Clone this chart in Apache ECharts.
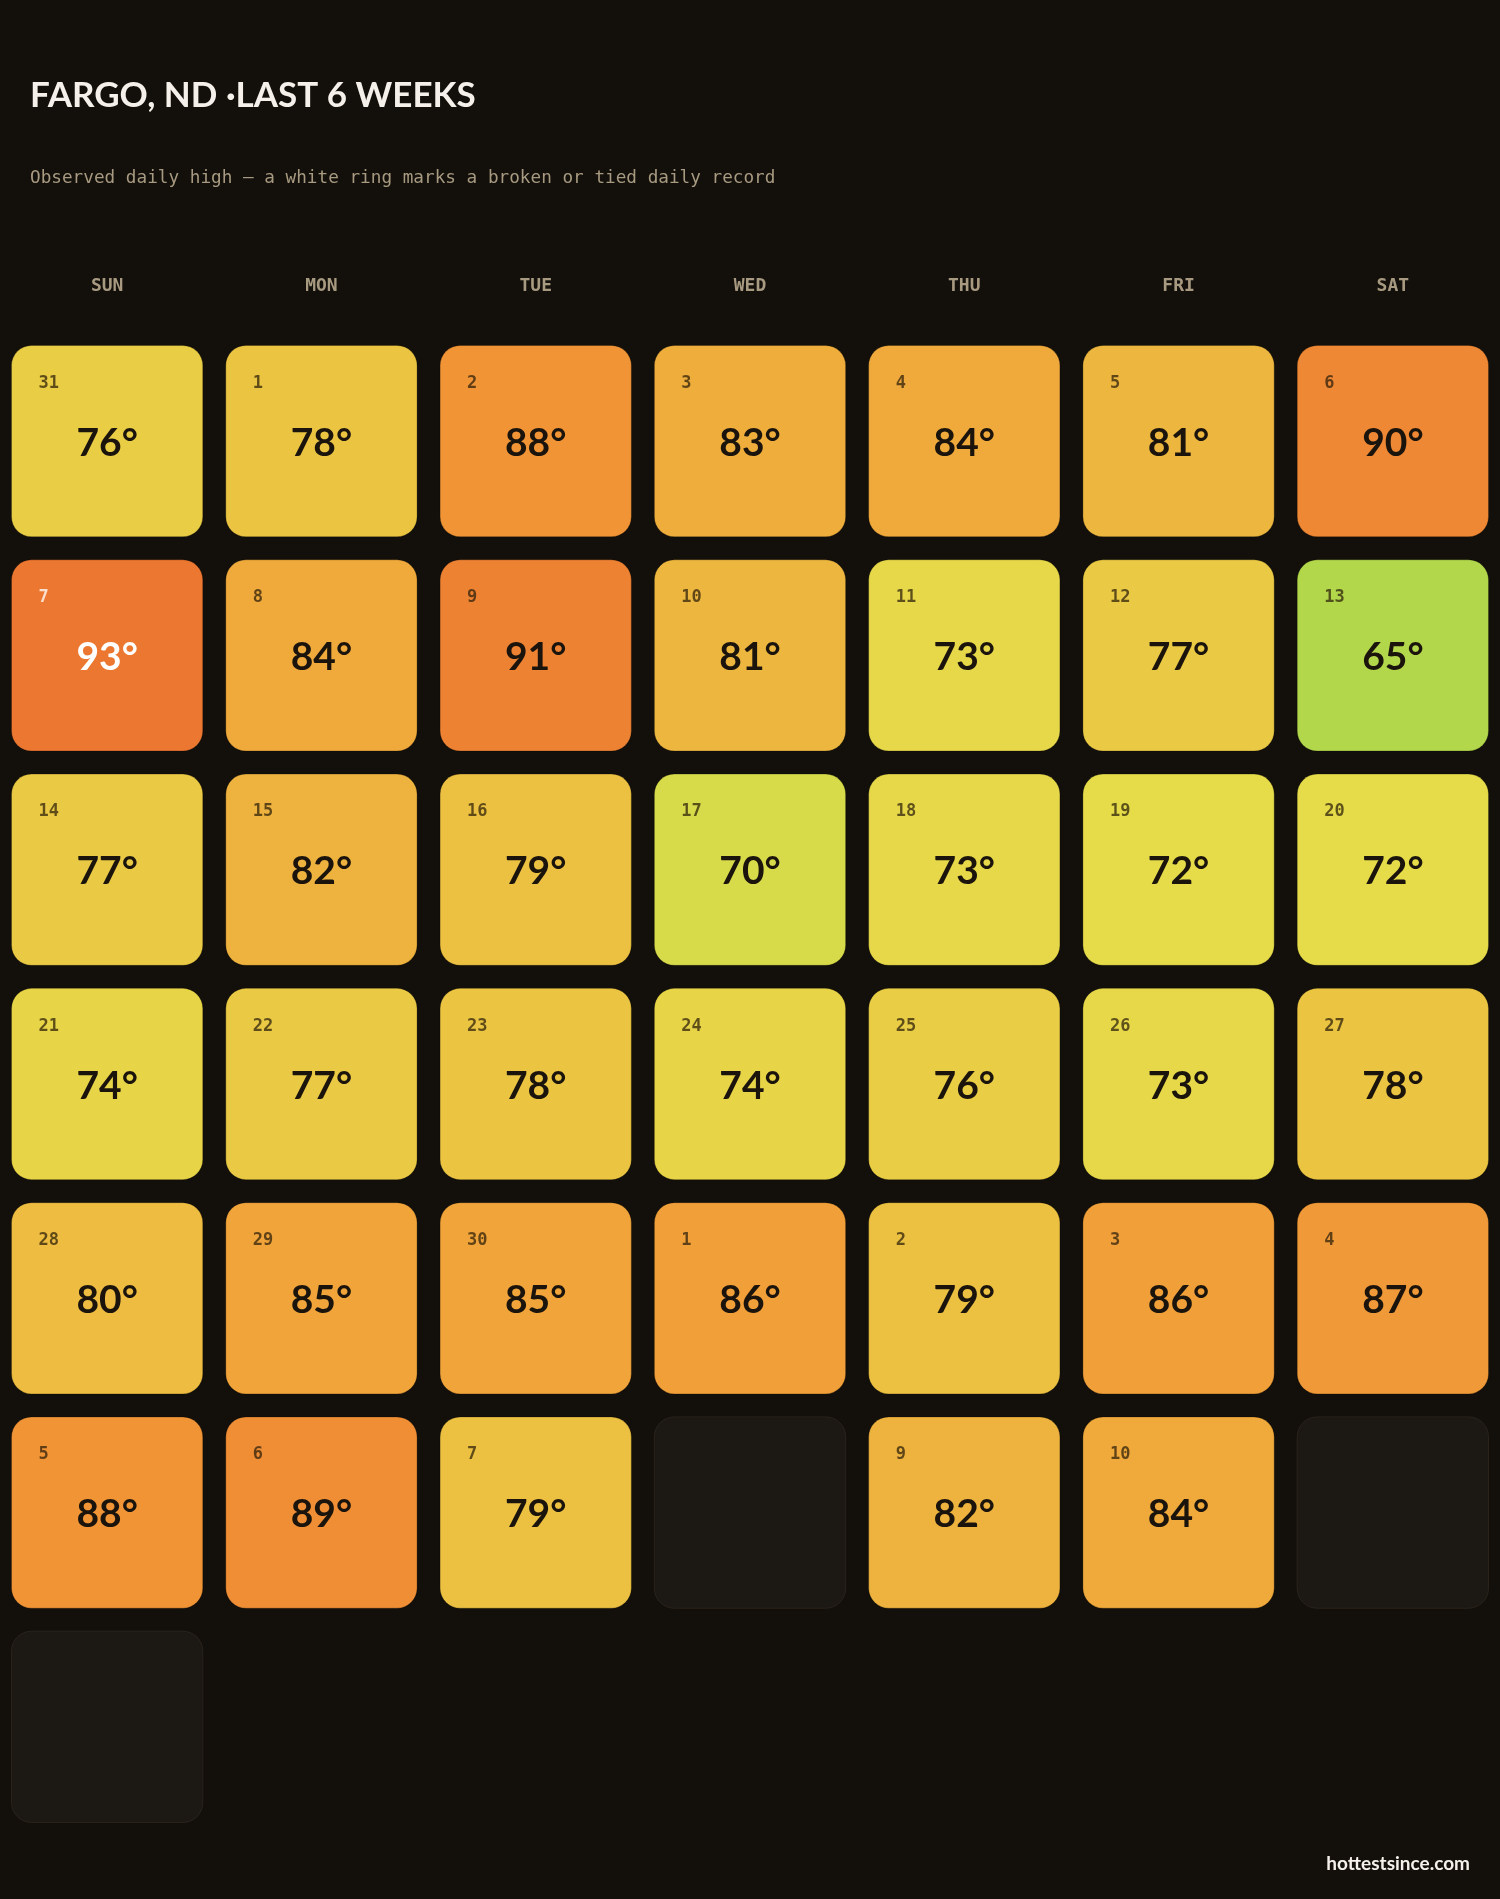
<!DOCTYPE html>
<html>
<head>
<meta charset="utf-8">
<title>Fargo, ND - last 6 weeks</title>
<script src="https://cdn.jsdelivr.net/npm/echarts@6/dist/echarts.min.js"></script>
<style>
    html, body { margin: 0; padding: 0; background: #13100c; }
    #chart { width: 1500px; height: 1899px; }
</style>
</head>
<body>
<div id="chart"></div>
<script>
// columnas del calendario
var weekdays = ['SUN', 'MON', 'TUE', 'WED', 'THU', 'FRI', 'SAT'];
var weeks = ['W1', 'W2', 'W3', 'W4', 'W5', 'W6', 'W7'];

// numero de dia de cada celda (null = sin dato)
var dayNumbers = [
    31, 1, 2, 3, 4, 5, 6,
    7, 8, 9, 10, 11, 12, 13,
    14, 15, 16, 17, 18, 19, 20,
    21, 22, 23, 24, 25, 26, 27,
    28, 29, 30, 1, 2, 3, 4,
    5, 6, 7, null, 9, 10, null,
    null
];

// maxima observada (F)
var highs = [
    76, 78, 88, 83, 84, 81, 90,
    93, 84, 91, 81, 73, 77, 65,
    77, 82, 79, 70, 73, 72, 72,
    74, 77, 78, 74, 76, 73, 78,
    80, 85, 85, 86, 79, 86, 87,
    88, 89, 79, null, 82, 84, null,
    null
];

// escala de color (de 65 a 93)
var scaleColors = ['#b3d74b', '#e6dc4a', '#ecc141', '#f19f39', '#ec7730'];

var GAP = 23;

var cells = [];
var emptyCells = [];
highs.forEach(function(h, i) {
    var col = weekdays[i % 7];
    var row = weeks[Math.floor(i / 7)];
    if (h === null) {
        emptyCells.push([col, row]);
    } else {
        cells.push([col, row, h, dayNumbers[i]]);
    }
});

function cellRect(api) {
    var c = api.coord([api.value(0), api.value(1)]);
    var s = api.size([1, 1]);
    var w = s[0] - GAP, h = s[1] - GAP;
    return { x: c[0] - w / 2, y: c[1] - h / 2, width: w, height: h, cx: c[0], cy: c[1] };
}

function renderCell(params, api) {
    var r = cellRect(api);
    var temp = api.value(2);
    var hot = temp >= 92;
    return {
        type: 'group',
        children: [{
            type: 'rect',
            shape: { x: r.x, y: r.y, width: r.width, height: r.height, r: 20 },
            style: { fill: api.visual('color'), stroke: 'rgba(0,0,0,0.25)', lineWidth: 1 }
        }, {
            type: 'text',
            x: r.x + 27,
            y: r.y + 38,
            style: {
                text: String(api.value(3)),
                fill: hot ? 'rgba(255,255,255,0.75)' : 'rgba(40,28,8,0.72)',
                font: 'bold 17px "DejaVu Sans Mono", monospace',
                verticalAlign: 'middle',
                align: 'left'
            }
        }, {
            type: 'text',
            x: r.cx,
            y: r.cy + 2,
            style: {
                text: temp + '°',
                fill: hot ? '#ffffff' : '#1a140c',
                font: 'bold 39px Lato, "Open Sans", sans-serif',
                verticalAlign: 'middle',
                align: 'center'
            }
        }]
    };
}

function renderEmpty(params, api) {
    var r = cellRect(api);
    return {
        type: 'rect',
        shape: { x: r.x, y: r.y, width: r.width, height: r.height, r: 20 },
        style: { fill: '#1c1813', stroke: '#2a231b', lineWidth: 1 }
    };
}

var chart = echarts.init(document.getElementById('chart'), null, { renderer: 'canvas' });
chart.setOption({
    backgroundColor: '#13100c',
    animation: false,
    grid: { left: 0, top: 334, width: 1500, height: 1500 },
    xAxis: {
        type: 'category',
        data: weekdays,
        position: 'top',
        axisLine: { show: false },
        axisTick: { show: false },
        splitLine: { show: false },
        axisLabel: {
            margin: 39,
            color: '#a89a80',
            fontFamily: '"DejaVu Sans Mono", monospace',
            fontWeight: 'bold',
            fontSize: 18
        }
    },
    yAxis: {
        type: 'category',
        data: weeks,
        inverse: true,
        show: false
    },
    visualMap: {
        show: false,
        type: 'continuous',
        min: 65,
        max: 93,
        dimension: 2,
        seriesIndex: 1,
        inRange: { color: scaleColors }
    },
    graphic: [{
        type: 'text',
        left: 30,
        top: 78,
        style: {
            text: 'FARGO, ND ·LAST 6 WEEKS',
            fill: '#f5f1ea',
            font: 'bold 35px Lato, sans-serif'
        }
    }, {
        type: 'text',
        left: 30,
        top: 169,
        style: {
            text: 'Observed daily high — a white ring marks a broken or tied daily record',
            fill: '#a89a80',
            font: '17.7px "DejaVu Sans Mono", monospace'
        }
    }, {
        type: 'text',
        right: 30,
        top: 1854,
        style: {
            text: 'hottestsince.com',
            fill: '#f5f1ea',
            font: 'bold 19px Lato, sans-serif'
        }
    }],
    series: [{
        type: 'custom',
        name: 'empty',
        renderItem: renderEmpty,
        data: emptyCells,
        silent: true
    }, {
        type: 'custom',
        name: 'Observed high',
        renderItem: renderCell,
        encode: { x: 0, y: 1 },
        data: cells
    }]
});
</script>
</body>
</html>
